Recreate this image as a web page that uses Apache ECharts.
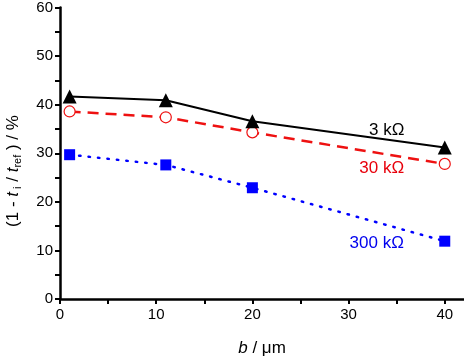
<!DOCTYPE html>
<html>
<head>
<meta charset="utf-8">
<script src="https://cdn.jsdelivr.net/npm/echarts@6/dist/echarts.min.js"></script>
<style>
  html, body { margin: 0; padding: 0; background: #fff; }
  #chart { width: 464px; height: 362px; }
</style>
</head>
<body>
<div id="chart"></div>
<script>
// b / um
var bValues = [1, 11, 20, 40]
// (1 - ti/tref) / %
var r3k = [41.7, 40.9, 36.6, 31.2]
var r30k = [38.6, 37.4, 34.3, 27.8]
var r300k = [29.7, 27.6, 22.9, 11.9]
var seriesNames = ['3 kΩ', '30 kΩ', '300 kΩ']
var xTicks = [0, 5, 10, 15, 20, 25, 30, 35, 40]
var xLabels = [0, 10, 20, 30, 40]

var chart = echarts.init(document.getElementById('chart'))

var font = 'Liberation Sans, Arial, sans-serif'

//把数据拼成点, 最后一个点带标签
var makeData = (ys, name, offset, color) => {
    return ys.map((y, i) => {
        var item = { value: [bValues[i], y] }
        if (i === ys.length - 1) {
            item.label = {
                show: true,
                position: 'inside',
                offset: offset,
                formatter: name,
                color: color,
                fontSize: 17,
                fontFamily: font
            }
        }
        return item
    })
}

chart.setOption({
    animation: false,
    grid: { left: 60, top: 7, width: 404, height: 298, containLabel: false },
    //纵轴标题, 旋转放在左边
    graphic: [
        {
            type: 'text',
            x: 13,
            y: 171,
            rotation: Math.PI / 2,
            style: {
                text: '(1 - {i|t}{s| i} / {i|t}{s|ref} ) / %',
                align: 'center',
                verticalAlign: 'middle',
                fill: '#000',
                font: '17px Liberation Sans, Arial, sans-serif',
                rich: {
                    i: { fontStyle: 'italic', fontSize: 17, fontFamily: font, fill: '#000' },
                    s: { fontSize: 11, fontFamily: font, fill: '#000', verticalAlign: 'bottom', padding: [10, 0, 0, 0] }
                }
            }
        }
    ],
    xAxis: {
        type: 'value',
        min: 0,
        max: 42,
        interval: 5,
        name: '{i|b} / μm',
        nameLocation: 'middle',
        nameGap: 41,
        nameTextStyle: {
            fontSize: 17, fontFamily: font, color: '#000',
            rich: { i: { fontStyle: 'italic', fontSize: 17, fontFamily: font, color: '#000' } }
        },
        axisLine: { lineStyle: { color: '#000', width: 2.5 } },
        axisTick: { show: true, length: 5, lineStyle: { color: '#000', width: 2 }, customValues: xTicks },
        axisLabel: { color: '#000', fontSize: 15, fontFamily: font, margin: 8, customValues: xLabels },
        splitLine: { show: false }
    },
    yAxis: {
        type: 'value',
        min: 0,
        max: 60,
        interval: 5,
        axisLine: { lineStyle: { color: '#000', width: 2.5 } },
        axisTick: { show: true, length: 5, lineStyle: { color: '#000', width: 2 } },
        axisLabel: {
            color: '#000', fontSize: 15, fontFamily: font, margin: 7,
            formatter: (v) => (v % 10 === 0 ? v : '')
        },
        splitLine: { show: false }
    },
    series: [
        {
            name: seriesNames[0],
            type: 'line',
            data: makeData(r3k, seriesNames[0], [-58, -17], '#000'),
            symbol: 'triangle',
            symbolSize: 14,
            itemStyle: { color: '#000' },
            lineStyle: { color: '#000', width: 2 },
            z: 3
        },
        {
            name: seriesNames[1],
            type: 'line',
            data: makeData(r30k, seriesNames[1], [-63, 4], '#e8000b'),
            symbol: 'circle',
            symbolSize: 11,
            showAllSymbol: true,
            itemStyle: { color: '#fff', borderColor: '#ee1111', borderWidth: 1.2 },
            lineStyle: { color: '#ee1111', width: 2.5, type: [11, 7] },
            z: 2
        },
        {
            name: seriesNames[2],
            type: 'line',
            data: makeData(r300k, seriesNames[2], [-68, 2], '#0000ee'),
            symbol: 'rect',
            symbolSize: 11,
            itemStyle: { color: '#0000ff' },
            lineStyle: { color: '#0000ff', width: 2.5, type: [1.5, 8], cap: 'round' },
            z: 2
        }
    ]
})
</script>
</body>
</html>
